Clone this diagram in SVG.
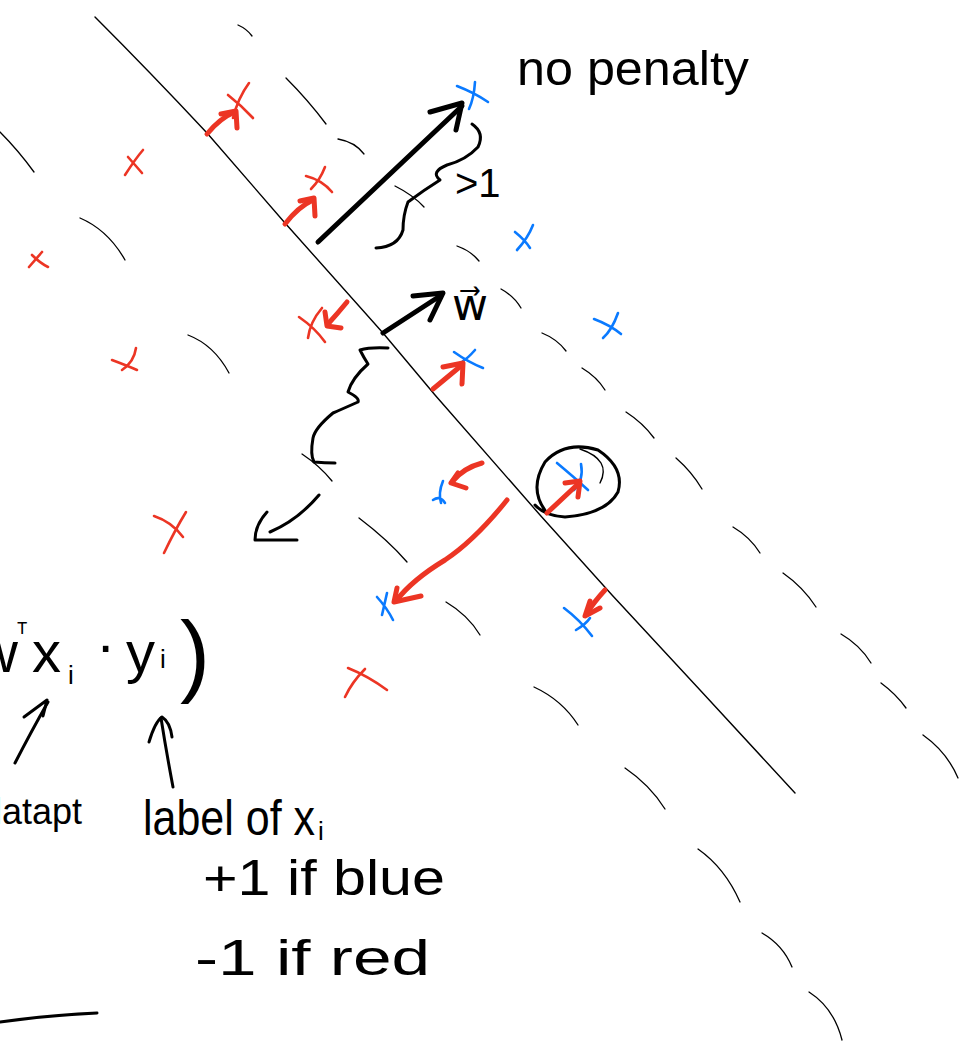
<svg xmlns="http://www.w3.org/2000/svg" width="965" height="1051" viewBox="0 0 965 1051">
<style>
.bg{fill:#ffffff}
.thin{fill:none;stroke:#000;stroke-width:1.4;stroke-linecap:round;stroke-linejoin:round}
.dash{fill:none;stroke:#000;stroke-width:1.3;stroke-linecap:round}
.blk{fill:none;stroke:#000;stroke-width:5;stroke-linecap:round;stroke-linejoin:round}
.blkm{fill:none;stroke:#000;stroke-width:3;stroke-linecap:round;stroke-linejoin:round}
.red{fill:none;stroke:#ec3524;stroke-width:5;stroke-linecap:round;stroke-linejoin:round}
.rx{fill:none;stroke:#ec3524;stroke-width:2.6;stroke-linecap:round;stroke-linejoin:round}
.bx{fill:none;stroke:#0a7aff;stroke-width:2.6;stroke-linecap:round;stroke-linejoin:round}
.hand{font-family:"Liberation Sans","DejaVu Sans",sans-serif;fill:#000}
</style>
<rect class="bg" x="0" y="0" width="965" height="1051"/>

<g id="boundary">
<path class="thin" d="M95,17 Q150,72 207,133 L285,223 L383,333 L435,395 L540,515 L612,595 L700,690 L795,793"/>
</g>

<g id="margin-upper">
<path class="dash" d="M238,25 Q247,29 252,36"/>
<path class="dash" d="M286,78 Q308,100 326,124"/>
<path class="dash" d="M338,139 Q355,142 364,154"/>
<path class="dash" d="M395,186 Q413,195 424,207"/>
<path class="dash" d="M457,246 Q471,251 479,261"/>
<path class="dash" d="M501,289 Q514,296 521,308"/>
<path class="dash" d="M542,333 Q557,339 566,351"/>
<path class="dash" d="M582,368 Q597,377 605,390"/>
<path class="dash" d="M626,412 Q643,423 654,438"/>
<path class="dash" d="M676,458 Q692,472 702,489"/>
<path class="dash" d="M733,527 Q750,537 760,553"/>
<path class="dash" d="M783,573 Q803,587 816,607"/>
<path class="dash" d="M841,634 Q860,645 871,663"/>
<path class="dash" d="M881,683 Q896,694 906,708"/>
<path class="dash" d="M923,735 Q947,752 958,778"/>
</g>

<g id="margin-lower">
<path class="dash" d="M0,132 Q18,150 34,172"/>
<path class="dash" d="M80,218 Q108,230 125,260"/>
<path class="dash" d="M188,335 Q214,345 229,373"/>
<path class="dash" d="M302,454 Q320,466 332,481"/>
<path class="dash" d="M359,518 Q388,540 407,562"/>
<path class="dash" d="M446,602 Q468,615 480,635"/>
<path class="dash" d="M534,687 Q562,700 578,725"/>
<path class="dash" d="M625,768 Q650,785 665,809"/>
<path class="dash" d="M698,849 Q725,868 740,902"/>
<path class="dash" d="M762,933 Q783,945 792,967"/>
<path class="dash" d="M809,992 Q834,1008 842,1040"/>
</g>

<g id="red-points">
<path class="rx" d="M228,95 Q242,106 253,118 M249,83 Q238,98 233,118"/>
<path class="rx" d="M125,175 Q136,158 143,150 M128,157 Q136,166 142,173"/>
<path class="rx" d="M29,267 Q36,259 42,252 M32,255 Q40,263 48,267"/>
<path class="rx" d="M306,176 Q322,180 332,192 M325,167 Q320,180 311,189"/>
<path class="rx" d="M299,317 Q315,328 325,342 M322,308 Q310,322 308,338"/>
<path class="rx" d="M112,360 Q128,366 137,370 M136,348 Q134,362 122,370"/>
<path class="rx" d="M154,516 Q172,522 183,537 M186,512 Q175,530 164,553"/>
<path class="rx" d="M345,697 Q352,682 365,669 M348,668 Q368,676 387,690"/>
</g>

<g id="blue-points">
<path class="bx" d="M457,86 Q475,93 488,102 M475,82 Q474,98 469,109"/>
<path class="bx" d="M515,232 Q525,240 530,248 M533,225 Q528,238 517,250"/>
<path class="bx" d="M594,319 Q610,325 621,334 M618,313 Q612,330 603,338"/>
<path class="bx" d="M454,352 Q468,362 483,368 M475,350 Q468,358 463,361"/>
<path class="bx" d="M443,481 Q438,493 441,503 M433,500 Q440,495 445,503"/>
<path class="bx" d="M377,597 Q387,608 393,620 M387,593 Q384,606 382,615"/>
<path class="bx" d="M557,463 Q575,478 588,490 M581,464 Q584,480 574,490"/>
<path class="bx" d="M564,608 Q580,620 592,636 M576,630 Q586,624 590,618"/>
</g>

<g id="circled-point">
<path class="blkm" d="M547,513 Q528,490 545,462 Q565,440 598,450 Q625,468 618,492 Q606,514 565,517 Q545,516 535,505"/>
<path class="thin" d="M580,449 Q612,460 600,483"/>
</g>

<g id="connectors">
<path class="red" d="M207,134 Q220,118 235,112"/>
<path class="red" d="M221,114 L236,111 L237,128"/>
<path class="red" d="M285,224 Q298,207 313,200"/>
<path class="red" d="M300,201 L314,198 L315,216"/>
<path class="red" d="M347,302 Q338,313 328,324"/>
<path class="red" d="M325,312 L327,326 L341,328"/>
<path class="red" d="M433,389 L462,365"/>
<path class="red" d="M443,367 L463,363 L462,384"/>
<path class="red" d="M482,463 Q463,468 452,482"/>
<path class="red" d="M458,473 L451,483 L466,488"/>
<path class="red" d="M507,500 Q475,540 445,560 Q412,580 396,601"/>
<path class="red" d="M397,588 L394,602 L421,596"/>
<path class="red" d="M547,513 L578,484"/>
<path class="red" d="M565,483 L580,481 L578,497"/>
<path class="red" d="M605,590 Q594,602 587,613"/>
<path class="red" d="M590,601 L585,616 L600,608"/>
<path class="blk" d="M318,242 L462,106"/>
<path class="blk" d="M430,112 L462,103 L456,130"/>
<path class="blk" d="M383,333 L440,296"/>
<path class="blk" d="M413,296 L443,293 L430,320"/>
<path class="blkm" d="M472,124 Q485,133 478,147 Q466,160 447,165 Q430,172 440,180 Q424,190 408,202 Q403,215 403,230 Q398,247 376,248"/>
<path class="blkm" d="M388,348 Q370,347 360,350 Q364,358 368,364 Q352,378 348,392 Q360,398 358,402 Q340,410 333,413 Q315,428 313,438 Q310,455 314,462 Q325,463 335,463"/>
<path class="blkm" d="M319,495 Q298,520 270,532"/>
<path class="blkm" d="M267,512 Q255,525 255,540 Q275,540 297,540"/>
<path class="blkm" d="M15,763 Q32,730 48,702"/>
<path class="blkm" d="M24,717 L47,700 L43,716"/>
<path class="blkm" d="M173,787 Q166,750 161,718"/>
<path class="blkm" d="M149,742 Q155,722 162,717 Q170,722 172,737"/>
<path class="blkm" d="M0,1022 Q50,1015 97,1013"/>
</g>

<g id="label-no-penalty">
<text class="hand" x="517" y="85" font-size="48" textLength="232" lengthAdjust="spacingAndGlyphs">no penalty</text>
</g>
<g id="label-gt1">
<text class="hand" x="455" y="197" font-size="40">&gt;1</text>
</g>
<g id="label-w">
<text x="452" y="320" font-family="DejaVu Sans, sans-serif" font-size="44" fill="#000">w⃗</text>
</g>
<g id="label-formula">
<text class="hand" y="672" font-size="58"><tspan x="-24">w</tspan><tspan x="17" y="640" font-size="24">ᵀ</tspan><tspan x="32" y="672">x</tspan><tspan x="68" y="684" font-size="26">i</tspan><tspan x="96" y="665">·</tspan><tspan x="126" y="672">y</tspan><tspan x="160" y="668" font-size="26">i</tspan></text>
<text class="hand" x="180" y="685" font-size="90">)</text>
</g>
<g id="label-datapt">
<text class="hand" x="82" y="824" font-size="36" text-anchor="end">datapt</text>
</g>
<g id="label-label">
<text class="hand" y="835" font-size="50"><tspan x="143" textLength="172" lengthAdjust="spacingAndGlyphs">label of x</tspan><tspan x="318" y="840" font-size="26">i</tspan></text>
<text class="hand" x="203" y="895" font-size="50" textLength="242" lengthAdjust="spacingAndGlyphs">+1 if blue</text>
<text class="hand" x="195" y="975" font-size="50" textLength="235" lengthAdjust="spacingAndGlyphs">-1 if red</text>
</g>
</svg>
